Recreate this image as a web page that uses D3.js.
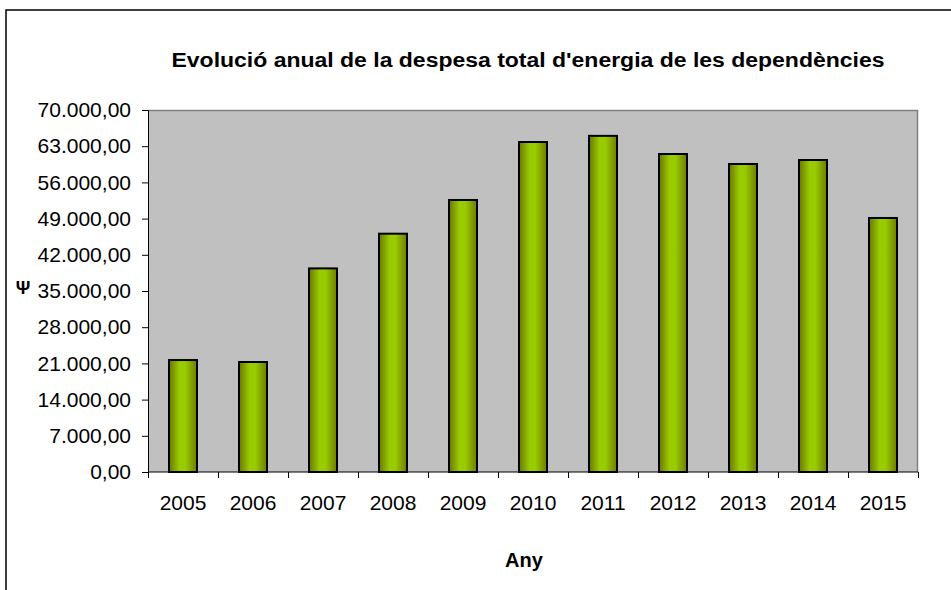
<!DOCTYPE html>
<html>
<head>
<meta charset="utf-8">
<script src="https://cdn.jsdelivr.net/npm/d3@7"></script>
<style>
  body { margin: 0; background: #fff; }
  svg { display: block; font-family: Arial, "Liberation Sans", sans-serif; }
</style>
</head>
<body>
<div id="chart"></div>
<script>
'use strict';

// dades llegides del gràfic
var anys = ['2005', '2006', '2007', '2008', '2009', '2010', '2011', '2012', '2013', '2014', '2015'];
var despesa = [21650, 21270, 39370, 46080, 52600, 63810, 65000, 61490, 59560, 60330, 49120];
var ticksY = [0, 7000, 14000, 21000, 28000, 35000, 42000, 49000, 56000, 63000, 70000];

var titol = "Evolució anual de la despesa total d'energia de les dependències";
var titolX = 'Any';
var titolY = 'Ψ';

var W = 951, H = 590;
var margin = {top: 110, right: 33, bottom: 118, left: 148};
var w = W - margin.left - margin.right;
var h = H - margin.top - margin.bottom;

var svg = d3.select('#chart').append('svg')
  .attr('width', W)
  .attr('height', H);

// gradient de les barres
var grad = svg.append('defs').append('linearGradient')
  .attr('id', 'barGrad')
  .attr('x1', '0%').attr('x2', '100%')
  .attr('y1', '0%').attr('y2', '0%');
grad.append('stop').attr('offset', '0%').attr('stop-color', '#6a7600');
grad.append('stop').attr('offset', '38%').attr('stop-color', '#99cc00');
grad.append('stop').attr('offset', '58%').attr('stop-color', '#99cc00');
grad.append('stop').attr('offset', '100%').attr('stop-color', '#6f7c00');

// marc exterior
svg.append('rect')
  .attr('x', 6).attr('y', 10)
  .attr('width', W + 10).attr('height', H + 10)
  .attr('fill', 'none')
  .attr('stroke', '#000')
  .attr('stroke-width', 1.5);

svg.append('text')
  .attr('x', 528).attr('y', 67)
  .attr('text-anchor', 'middle')
  .attr('font-size', 20)
  .attr('font-weight', 'bold')
  .attr('textLength', 713)
  .attr('lengthAdjust', 'spacingAndGlyphs')
  .text(titol);

var g = svg.append('g')
  .attr('transform', 'translate(' + margin.left + ',' + margin.top + ')');

var x = d3.scaleBand()
  .domain(anys)
  .range([0, w])
  .paddingInner(0.6)
  .paddingOuter(0.3);

var y = d3.scaleLinear()
  .domain([0, 70000])
  .range([h, 0]);

g.append('rect')
  .attr('width', w).attr('height', h)
  .attr('fill', '#c0c0c0');

// vora superior i dreta de l'àrea
g.append('path')
  .attr('d', 'M0,0.5H' + (w - 0.5) + 'V' + h)
  .attr('fill', 'none')
  .attr('stroke', '#808080')
  .attr('stroke-width', 1.5);

g.selectAll('.bar')
  .data(despesa)
  .enter().append('rect')
  .attr('class', 'bar')
  .attr('x', function(d, i){ return x(anys[i]); })
  .attr('y', function(d){ return y(d); })
  .attr('width', x.bandwidth())
  .attr('height', function(d){ return h - y(d); })
  .attr('fill', 'url(#barGrad)')
  .attr('stroke', '#000')
  .attr('stroke-width', 2);

var fmt = function(v){
  var s = d3.format(',.2f')(v);
  return s.replace(/,/g, '#').replace('.', ',').replace(/#/g, '.');
};

var yAxis = g.append('g')
  .call(d3.axisLeft(y).tickValues(ticksY).tickSize(6).tickPadding(11).tickFormat(fmt));
yAxis.select('.domain').attr('stroke', '#000');
yAxis.selectAll('text')
  .attr('font-size', 21)
  .attr('fill', '#000')
  .attr('font-family', 'Arial, "Liberation Sans", sans-serif');

// eix x: marques entre categories
var xAxis = g.append('g')
  .attr('transform', 'translate(0,' + h + ')');
xAxis.append('line')
  .attr('x1', 0).attr('x2', w)
  .attr('stroke', '#000');
xAxis.selectAll('.tk')
  .data(d3.range(anys.length + 1))
  .enter().append('line')
  .attr('class', 'tk')
  .attr('x1', function(i){ return Math.round(i * x.step()) + 0.5; })
  .attr('x2', function(i){ return Math.round(i * x.step()) + 0.5; })
  .attr('y1', 0).attr('y2', 6)
  .attr('stroke', '#000');
xAxis.selectAll('.lbl')
  .data(anys)
  .enter().append('text')
  .attr('class', 'lbl')
  .attr('x', function(d){ return x(d) + x.bandwidth() / 2; })
  .attr('y', 38)
  .attr('text-anchor', 'middle')
  .attr('font-size', 21)
  .text(function(d){ return d; });

svg.append('text')
  .attr('x', 524).attr('y', 567)
  .attr('text-anchor', 'middle')
  .attr('font-size', 20)
  .attr('font-weight', 'bold')
  .text(titolX);

svg.append('text')
  .attr('x', 23).attr('y', 294)
  .attr('text-anchor', 'middle')
  .attr('font-size', 18)
  .attr('font-weight', 'bold')
  .text(titolY);
</script>
</body>
</html>
